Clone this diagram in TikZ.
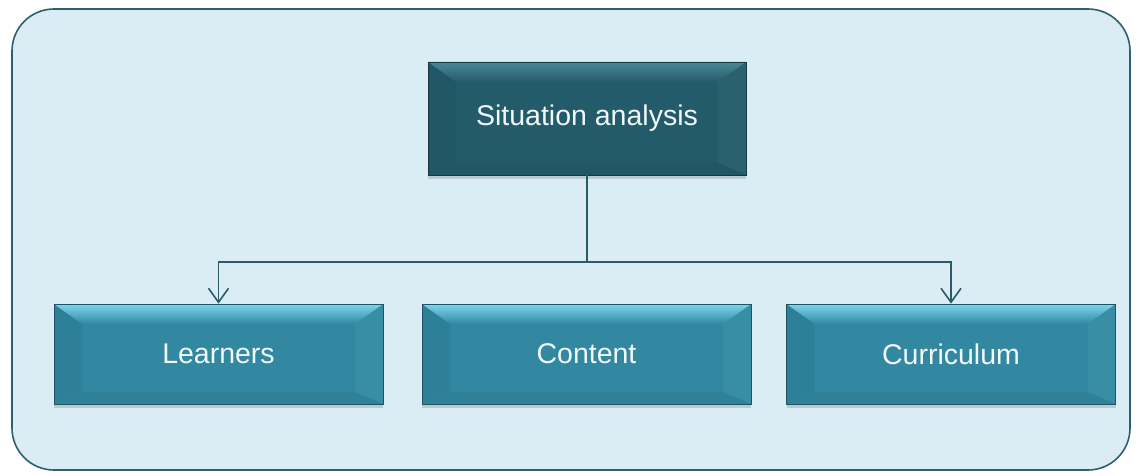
\documentclass[tikz,border=0pt]{standalone}
\usepackage{fontspec}
\setmainfont{Liberation Sans}
\usetikzlibrary{arrows.meta,shadows}

\definecolor{panelfill}{HTML}{DBEDF4}
\definecolor{panelline}{HTML}{2D5F6E}
\definecolor{linkcol}{HTML}{2C5A68}
\definecolor{boxtext}{HTML}{F2F8FA}
% dark header box
\definecolor{hdbase}{HTML}{245B6A}
\definecolor{hdtop}{HTML}{4A8897}
\definecolor{hdleft}{HTML}{215666}
\definecolor{hdright}{HTML}{29616F}
% lighter item boxes
\definecolor{itbase}{HTML}{3188A0}
\definecolor{ittop}{HTML}{7DD5EE}
\definecolor{itleft}{HTML}{2D8098}
\definecolor{itright}{HTML}{378EA5}

\tikzset{
  bevelbox/.style n args={4}{
    draw=#3!65!black, line width=0.7pt, fill=#1, inner sep=0pt,
    text=boxtext, font=\fontsize{28.5}{32}\selectfont,
    drop shadow={shadow xshift=0pt, shadow yshift=-4pt, opacity=0.25, fill=black!60},
    path picture={
      \coordinate (bnw) at (path picture bounding box.north west);
      \coordinate (bne) at (path picture bounding box.north east);
      \coordinate (bsw) at (path picture bounding box.south west);
      \coordinate (bse) at (path picture bounding box.south east);
      % left and right faces
      \fill[#3] (bnw) -- ([xshift=28pt,yshift=-20pt]bnw) -- ([xshift=28pt,yshift=12pt]bsw) -- (bsw) -- cycle;
      \fill[#4] (bne) -- ([xshift=-28pt,yshift=-20pt]bne) -- ([xshift=-28pt,yshift=12pt]bse) -- (bse) -- cycle;
      % bottom face
      \fill[#1!95!black] (bsw) -- ([xshift=28pt,yshift=12pt]bsw) -- ([xshift=-28pt,yshift=12pt]bse) -- (bse) -- cycle;
      % top face
      \shade[top color=#2, bottom color=#1] (bnw) -- (bne) -- ([xshift=-28pt,yshift=-20pt]bne) -- ([xshift=28pt,yshift=-20pt]bnw) -- cycle;
    }
  },
  headbox/.style={bevelbox={hdbase}{hdtop}{hdleft}{hdright}, minimum width=318pt, minimum height=113pt},
  itembox/.style={bevelbox={itbase}{ittop}{itleft}{itright}, minimum width=329pt, minimum height=100pt},
  link/.style={draw=linkcol, line width=1.4pt},
  linkarrow/.style={link, -{Straight Barb[length=14pt,width=20pt,line width=1.6pt]}}
}

\begin{document}
\begin{tikzpicture}[x=1pt,y=-1pt]
  \useasboundingbox (0,0) rectangle (1142,476);
  % background panel
  \filldraw[fill=panelfill, draw=panelline, line width=1.6pt, rounded corners=42pt]
    (12,9) rectangle (1130,470);

  \node[headbox] (top) at (587,118.5) {Situation analysis};
  \node[itembox] (learn) at (218.5,354) {Learners};
  \node[itembox] (cont) at (586.5,354) {Content};
  \node[itembox] (curr) at (951,354) {Curriculum};

  \coordinate (hub) at (587,262);
  \draw[link] (top.south) -- (hub);
  \draw[linkarrow] (hub) -| (learn.north);
  \draw[linkarrow] (hub) -| (curr.north);
\end{tikzpicture}
\end{document}
